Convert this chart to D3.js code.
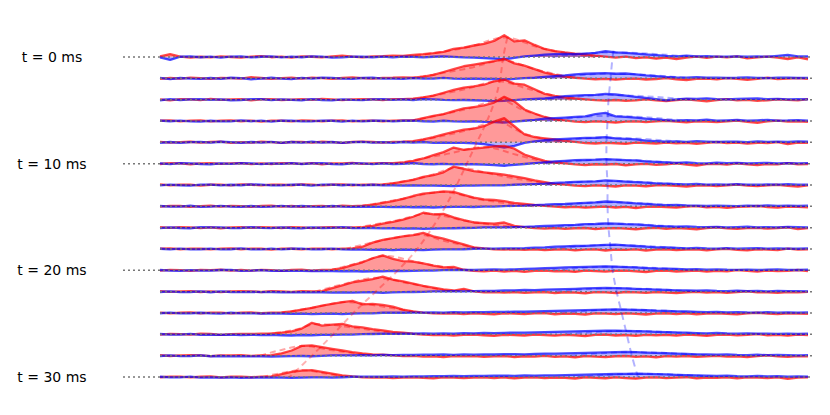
<!DOCTYPE html>
<html>
<head>
<meta charset="utf-8">
<script src="https://cdn.jsdelivr.net/npm/d3@7"></script>
<style>
  body { margin: 0; background: #fff; }
  svg { display: block; font-family: "DejaVu Sans", sans-serif; }
</style>
</head>
<body>
<script>
// time of each trace (ms), one row per time step
const times = [0, 2, 4, 6, 8, 10, 12, 14, 16, 18, 20, 22, 24, 26, 28, 30];
const labelTimes = [0, 10, 20, 30];

// sampled signals, 65 channels per row (amplitude)
const redSignal = [
  [.5,2.5,.3,-.5,.2, -.3,.5,0,-.6,.4, .8,-.2,.3,-.5,.6, .2,-.4,.5,1.2,.3, -.3,.6,.8,1.2,1, 1.8,2.5,3.4,4.5,7, 8.2,10,11.5,14,19, 13.5,14.5,10.5,7,5.2, 4,3,2.2,1.2,.4, -.5,.3,-1,-.4,-1.5, -.6,-1.8,-.5,.4,-.8, .3,-.4,.5,-1.2,-.3, .4,-.5,-1.8,-.3,-2],
  [-.4,.3,-.2,.6,.2, -.5,.4,.2,-.3,1, .3,-.4,.2,.5,-.2, .6,.1,-.5,.3,.8, .2,-.3,.4,.5,.8, .5,1.5,3,5.5,8, 10.5,12,13.5,15,17, 13,11,8,5,3, 1.5,.5,-.3,-.8,-.4, -1.2,-.5,-.2,-1,-.6, .3,-.8,-1.5,-.4,-.2, -.9,.2,-.5,-1.3,-.4, .5,-.6,-.3,.2,-.5],
  [.3,-.6,.5,.2,-.4, .6,-.2,.3,.4,-.5, .2,.5,-.3,.1,.4, -.2,.7,.2,-.4,.3, .5,.2,-.3,.4,.5, .8,2,3.5,6,8.5, 10.5,11.5,13,16,17.5, 14,13,9,5,3.2, 2,1,.3,-.4,-.8, -.3,-1,-.6,.2,-.7, -1.2,-.4,.3,-.5,-1.4, -.3,.4,-.6,-.2,-1, -.5,.3,-.2,-.6,.4],
  [.2,.5,-.3,.4,.6, -.4,.2,.5,-.2,.3, -.5,.4,.2,-.3,.5, .3,-.2,.4,.6,-.3, .2,.4,-.2,.3,.5, .6,2.5,4.5,6,8.5, 11,12,13.5,16,21, 17,10,6.5,3.5,1.5, .5,-.5,-1,-.4,-.8, -1.5,-.6,-.3,-1,-.4, .2,-.5,-1.2,-.3,-.6, -1,-.4,.3,-.7,-1.6, -.3,.4,-.5,-.2,-.8],
  [.4,-.3,.2,.5,-.2, .3,.6,-.4,.2,-.3, .5,.2,-.5,.3,.4, -.3,.5,.2,-.4,.3, .6,.3,-.2,.4,.6, 1,2.5,4.5,7,9, 11,12,14,18,21, 14,7,4.5,3.5,2.5, 1.2,.4,-.6,-1,-.4, -.8,-1.4,-.3,-.6,-1, -.2,-.9,-.5,-1.3,-.4, .3,-.7,-.2,-1.1,-.4, -.6,.2,-1.5,-.3,-.5],
  [-.3,.4,.2,-.5,.3, .5,-.2,.3,.4,-.4, .2,-.3,.5,.3,-.2, .4,-.5,.2,.3,.6, -.2,.3,.4,.5,1, 2.5,4.5,7.5,10,14, 12,13,14,15,15.5, 13,8,5,2.5,1, .2,-.6,-1.2,-.5,-.8, -.3,-1.5,-.6,-.2,-1, -.5,.3,-.8,-1.6,-.4, -.2,-.9,.3,-.5,-1.2, -.3,-.7,.4,-.5,-.3],
  [.5,-.3,.2,.4,-.5, .2,.3,-.4,.5,.2, -.3,.4,.2,-.2,.5, .3,-.4,.2,.5,-.2, .3,.2,.5,1.5,3, 4.5,7,8.5,11,16, 14,12,11,10,9, 7.5,6,4,2.5,1, .3,-.5,-1,-.4,-.7, -1.3,-.3,-.6,-1.1,-.4, -.2,-.8,-1.4,-.5,-.3, -.9,-.2,.3,-.6,-1, -.4,.2,-.7,-1.3,-.3],
  [-.2,.4,.3,-.5,.2, .5,-.3,.4,.2,-.4, .3,.5,-.2,.3,-.4, .2,.4,-.3,.5,.2, .5,1.5,3,4.5,6.5, 9,11,12,13,12.5, 10,7.5,6,5.5,4.5, 3,2.2,1.2,.4,-.3, -.8,-.4,-1.2,-.6,-.3, -1,-.5,-1.5,-.4,-.2, -.7,-1.2,-.3,.2,-.8, -.4,-1.3,-.5,-.2,.3, -.6,-1,-.3,-.5,-.8],
  [.4,-.2,.5,.3,-.4, .2,-.5,.3,.4,-.2, .5,.2,-.3,.4,.3, -.4,.2,.5,-.2,.3, .5,1.5,3.5,5,7, 9.5,13,11.5,12,9, 6.5,4.5,4,3.5,4.5, 1.5,.5,-.3,-.8,-.4, -1,-.5,-.3,-1.3,-.6, -.4,-.9,-1.5,-.5,-.2, -1,-.4,-.8,-1.4,-.3, .2,-.6,-1.1,-.4,-.2, -.9,-.3,.3,-1.2,-.4],
  [.3,.5,-.2,.4,.2, -.4,.3,.5,-.2,.4, .2,-.5,.3,.2,-.3, .4,.3,-.2,.3,.5, 2,5.5,8,9.5,11, 12,14,11,9,6.5, 4,1.5,.5,-.3,-.6, -.2,-.8,-.4,-1,-.5, -.3,-1.2,-.6,-.4,-1.3, -.5,-.8,-.3,-1.4,-.6, -.2,-1,-.5,-.3,-1.1, -.4,.2,-.8,-1.2,-.3, -.5,-.9,.3,-.6,-.4],
  [-.3,.4,.2,-.5,.3, .2,.5,-.3,.3,-.2, .4,.2,-.4,.3,.5, -.2,.3,.5,2,4.5, 7,10.5,13,10,8, 7.5,6,4,2.5,3, .5,-.4,-.8,-.3,-1, -.5,-1.3,-.4,-.2,-.9, -.6,-1.4,-.3,-.7,-1.1, -.4,-.2,-.9,-1.5,-.5, -.3,-1,-.6,-.2,-1.2, -.5,-.8,.2,-.4,-1, -.3,-.7,-.4,.3,-.6],
  [.4,-.2,.3,.5,-.3, .3,-.4,.2,.4,.3, -.3,.5,.2,-.2,.4, .3,.5,3,5.5,8, 9.5,11,13,10.5,9, 7,5,3.5,2,1, 2.5,.3,-.5,-.3,-.9, -.4,-1,-.6,-.3,-1.2, -.5,-.9,-1.5,-.4,-.7, -1.2,-.3,-.6,-1,-.4, -.8,-1.3,-.5,-.2,-.9, -.4,-1.1,-.3,.2,-.7, -.5,-1,-.3,-.6,-.2],
  [.3,-.4,.2,.5,-.2, .4,.3,-.3,.2,.5, -.2,.3,.5,1.5,3, 4.5,6.5,8,9.5,10.5, 7.5,8,7,5.5,3, 1.5,.4,-.3,-.6,-.2, -.9,-.4,-.7,-1.2,-.3, -.6,-1,-.4,-.2,-1.1, -.5,-.8,-1.4,-.3,-.6, -1,-.4,-.7,-1.3,-.5, -.2,-.9,-.4,-1.1,-.6, -.3,-.8,-1.2,-.4,.2, -.6,-.9,-.3,-.5,-.7],
  [-.3,.4,.2,-.2,.5, .3,-.4,.2,.4,.3, .5,.8,1.5,2.5,5, 10,7.5,8.5,9,7, 6,4.5,3.5,2.2,1.5, .5,-.3,-.7,-.4,-1, -.5,-.2,-.8,-1.3,-.4, -.7,-1,-.3,-.6,-1.2, -.4,-.9,-1.5,-.5,-.3, -1,-.6,-1.3,-.4,-.8, -.5,-1.1,-.3,-.7,-1.4, -.4,-.2,-.9,-.5,.2, -.8,-.4,-1.2,-.3,-.6],
  [.4,-.3,.2,.5,.3, -.4,.3,.2,.5,-.2, .3,.5,2,4.5,8.5, 9,7.5,6,4.5,3, 2,1.2,.8,.3,-.4, -.2,-.8,-.5,-1.2,-.3, -.7,-.4,-1,-.6,-.3, -1.3,-.5,-.8,-.2,-1, -.6,-1.5,-.4,-.9,-1.2, -.5,-.3,-1,-.7,-1.4, -.4,-.8,-.3,-1.1,-.6, -.2,-.9,-.5,-1.3,-.4, .2,-.7,-1,-.4,-.6],
  [-.2,.4,.3,-.3,.2, .5,-.3,.2,.4,-.2, .3,.5,2.5,4.5,5.5, 6,4.5,3,1.5,.5, -.3,-.6,-.2,-1,-.5, -.3,-.8,-1.2,-.4,-.6, -1,-.5,-.3,-.9,-.4, -1.2,-.6,-.3,-1,-.5, -.8,-1.3,-.4,-.7,-1.1, -.4,-.9,-1.5,-.5,-.3, -1,-.6,-.2,-1.2,-.5, -.8,-.4,-1.1,-.3,-.6, -.9,-.4,-1.6,-.5,-.3]
];

const blueSignal = [
  [-.3,-2.5,.2,.6,-.2, .4,-.5,.3,.5,-.4, .2,.6,-.3,.4,-.2, .5,.3,-.6,-.3,.4, .2,-.2,.3,-.3,.4, .1,-.3,.2,.5,.1, -.4,-.6,-1,-1.5,-2, -.8,.5,1.2,2,2.5, 2.8,2.5,3,3.5,5, 4,3.6,3,2.2,1.6, 1,.6,1.2,.5,.8, .4,.3,.6,.2,.5, .3,1,1.8,.5,.6],
  [.4,-.6,.3,-.2,-.5, .3,-.4,.5,.2,-.8, -.2,.5,-.3,-.6,.4, -.3,.5,.4,-.2,-.5, .3,.5,-.3,-.2,-.4, .2,-.3,-.2,.4,-.3, -.5,-.3,-.6,-.4,-1, -.5,.2,.5,1.2,2, 2.5,3.5,4,4.2,4.5, 4,4.2,3.5,2.5,2, 1.2,.8,.6,1,.5, .6,.3,.5,.9,.4, .2,.6,.5,.3,.4],
  [-.5,.4,-.3,.2,.5, -.2,.3,-.5,-.3,.4, .5,-.4,.2,-.2,-.5, .4,-.3,-.6,.3,-.2, -.4,.3,.5,-.2,.2, -.3,.4,.2,-.2,-.4, -.3,-.5,-.8,-1.2,-1, -.4,.3,.6,1,2, 3,3.5,4,4.2,5, 4.5,3.5,2.5,1.5,.5, -.5,.3,.8,.6,1.2, .5,.3,.6,.8,1, .4,.7,.3,.5,.2],
  [.3,-.2,.4,-.3,-.5, .2,-.4,-.3,.5,-.2, .3,-.5,.4,.2,-.3, -.4,.3,.2,-.5,.4, -.3,.2,.3,-.4,.2, .3,-.2,-.5,.2,-.3, -.6,-.4,-.8,-1,-1.3, -.5,.2,1,2,2.5, 3,3.5,4,6,7, 4,3.5,3,2,1.5, .8,.3,.8,.5,1.2, .4,.6,.9,.3,.6, 1,.4,.5,.8,.3],
  [-.4,.3,-.5,.2,.4, -.3,.5,.2,-.4,.3, -.2,.4,-.5,.3,-.3, .5,-.2,.3,-.4,.2, .4,-.3,.2,-.5,.3, -.2,.3,-.4,-.3,-.5, -.4,-.8,-1.5,-3,-4.5, -3,-.5,.8,1.8,2.5, 3,3.5,3.8,4,4.5, 3.5,3,2.5,1.5,1, .5,.8,.4,1,.6, .3,.7,.5,.2,.8, .4,.6,.3,.9,.5],
  [.3,-.4,.5,.2,-.3, -.5,.3,-.2,.4,.2, -.4,.3,-.2,.5,-.3, .2,.4,-.3,-.5,.2, .3,-.4,.2,-.3,-.2, .4,-.3,-.5,-.2,-.6, -.4,-.5,-.8,-1.2,-1.8, -1,-.3,.5,1.2,2, 2.5,3,3.2,3.5,4, 3.5,3,2.8,2,1.5, 1,.6,1.2,.5,.3, .8,.4,.6,.2,.5, .7,.3,.5,.2,.4],
  [-.3,.4,-.2,-.5,.3, .4,-.3,.2,-.2,.5, .3,-.4,-.3,.4,.2, -.5,.3,.4,-.2,.3, -.3,.2,-.4,-.3,-.5, -.4,-.6,-.5,-.8,-1, -.6,-.5,-.3,-.4,-.2, .2,.5,.8,1.2,1.8, 2.2,2.8,3,3.2,4, 3.5,3,2.5,2,1.5, 1.2,.8,.5,.9,.4, .6,.3,.7,.4,.2, .5,.3,.8,.4,.2],
  [.3,-.3,-.2,.5,-.4, -.2,.4,-.3,-.4,.3, -.5,-.2,.4,-.3,.3, -.2,-.5,.3,-.3,-.4, -.3,-.5,-.4,-.7,-.5, -.8,-.6,-1,-.7,-.5, -.4,-.6,-.3,-.2,.2, .4,.6,1,1.4,2, 2.2,2.6,3,3.5,4.2, 3.8,3.2,2.6,2.2,1.5, 1,1.3,.8,.5,.3, .7,.4,.2,.6,.3, .8,.4,.6,.3,.5],
  [-.4,.3,-.3,-.5,.4, .3,.2,-.4,-.3,.5, -.2,-.4,.3,-.3,-.5, .3,-.3,-.2,.4,-.3, -.4,-.3,-.6,-.5,-.8, -.6,-1,-.8,-.7,-.5, -.3,-.2,.2,.3,.2, .5,.7,1,1.5,1.8, 2.2,2.5,3,3.2,3.8, 3.5,3,2.8,2.2,1.6, 1.2,.8,1.1,.6,.4, .7,.3,.5,.8,.3, .5,.2,.6,.4,.3],
  [.2,-.4,.3,-.3,-.2, .4,-.3,-.2,.5,-.4, -.3,.3,-.4,.2,.4, -.3,-.2,.3,-.4,-.5, -.6,-.8,-.5,-.9,-.6, -.7,-1,-.6,-.4,-.3, -.2,.2,.4,.3,.5, .6,.8,1.2,1.4,2, 2.3,2.6,2.8,3.2,3.5, 3.8,3.2,2.6,2,1.5, 1.3,.9,.6,1,.5, .4,.7,.3,.5,.8, .4,.6,.3,.2,.5],
  [.3,-.3,-.4,.2,-.2, -.3,.3,.4,-.4,-.3, .2,-.4,-.3,-.5,-.4, -.6,-.4,-.7,-.8,-.6, -1,-.8,-.9,-.5,-.6, -.4,-.3,-.2,.2,.3, .4,.3,.5,.8,.6, .9,1.2,1.5,1.8,2.2, 2.5,2.8,3,3.2,3.5, 3.2,2.8,2.5,2,1.6, 1.5,1.2,.8,1,.6, .9,.5,.4,.7,.3, .5,.8,.4,.3,.6],
  [-.3,.2,-.4,-.3,.3, -.5,.2,-.3,-.4,-.2, -.4,-.3,-.5,-.6,-.4, -.7,-.5,-.8,-.6,-.9, -.7,-.5,-1,-.6,-.4, -.3,-.2,.2,.3,.4, .3,.5,.7,.6,1, 1.2,1.5,1.4,1.8,2, 2.2,2.5,2.8,3,3.2, 3,2.8,2.4,2.2,1.8, 1.5,1.2,1,.8,1.1, .7,.5,.8,.4,.6, .3,.7,.5,.4,.3],
  [-.2,.3,-.3,-.4,.2, -.3,-.5,.2,-.4,-.3, -.5,-.4,-.6,-.8,-.5, -.9,-.7,-.6,-1,-.5, -.4,-.3,.2,.3,.2, .4,.3,.5,.4,.7, .6,.8,.7,1,.9, 1.2,1.1,1.4,1.6,1.8, 2,2.2,2.5,2.8,3, 3.2,3,2.8,2.4,2, 1.8,1.5,1.3,1,.8, 1,.6,.8,.5,.4, .7,.3,.6,.4,.5],
  [.3,-.3,-.2,.4,-.4, -.2,-.5,-.3,-.6,-.4, -.7,-.5,-.8,-1,-.6, -.8,-.5,-.4,-.3,-.2, .2,.3,.5,.4,.6, .5,.8,.6,.9,.7, 1,.8,1.2,1.1,1.3, 1.5,1.4,1.7,1.9,2.1, 2.3,2.6,2.8,3,3.1, 3.3,3,2.7,2.5,2.2, 2,1.6,1.4,1.1,.9, 1.2,.8,.6,.9,.5, .6,.4,.7,.3,.5],
  [-.3,.2,-.4,-.3,.3, -.5,-.3,-.6,-.4,-.7, -.5,-.8,-.6,-.4,-.3, -.5,-.2,.2,.3,.2, .4,.3,.6,.5,.7, .6,.9,.8,1,.7, 1.1,.9,1.2,1,1.3, 1.4,1.2,1.6,1.8,1.7, 2,2.2,2.4,2.6,2.8, 3,3.2,3,2.7,2.4, 2.1,1.8,1.5,1.2,1, .9,1.1,.7,.5,.8, .4,.6,.5,.3,.4],
  [.2,-.4,-.3,.3,-.5, -.4,-.6,-.3,-.7,-.5, -.4,-.6,-.5,-.8,-.6, -.4,-.3,-.5,-.2,.2, .3,.4,.2,.5,.4, .6,.5,.8,.7,.9, .8,1,.9,1.1,1.2, 1,1.3,1.2,1.5,1.4, 1.6,1.8,2,2.2,2.4, 2.6,2.8,3,2.8,2.5, 2.2,1.9,1.6,1.3,1.1, .9,1.2,.8,.6,.9, .5,.7,.4,.6,.3]
];

// fitted envelopes: [channel, amplitude] knots per row
const redEnvelope = [
  [[24.2, 0], [30.6, 9], [34.1, 17], [37.5, 8], [43.0, 0]],
  [[24.7, 0], [30.6, 9], [33.9, 15.5], [37.0, 8], [41.0, 0]],
  [[24.7, 0], [30.1, 9], [33.4, 16], [36.5, 9], [40.5, 0]],
  [[24.7, 0], [30.1, 10], [33.6, 18], [36.0, 9], [39.5, 0]],
  [[24.7, 0], [30.1, 10], [33.3, 18], [35.6, 9], [39.5, 0]],
  [[23.2, 0], [28.1, 8], [32.1, 14.5], [35.1, 8], [38.5, 0]],
  [[21.7, 0], [26.2, 7], [29.4, 15], [33.6, 8], [39.0, 0]],
  [[19.8, 0], [24.2, 7], [27.9, 12.5], [31.6, 6], [37.0, 0]],
  [[19.3, 0], [23.2, 6], [26.5, 12], [30.1, 6], [35.6, 0]],
  [[18.3, 0], [22.2, 8], [25.5, 12.5], [28.1, 7], [31.6, 0]],
  [[16.8, 0], [19.8, 7], [22.2, 12.5], [25.7, 6.5], [30.1, 0]],
  [[15.3, 0], [18.3, 7], [21.2, 12], [24.7, 7], [28.6, 0]],
  [[11.9, 0], [15.3, 5], [18.3, 9.5], [21.7, 6], [25.7, 0]],
  [[10.4, 0], [13.3, 4], [15.6, 9], [19.3, 5.5], [23.7, 0]],
  [[9.9, 0], [12.0, 5], [14.1, 8.5], [16.8, 5], [20.7, 0]],
  [[10.1, 0], [12.0, 3.5], [14.1, 6], [16.0, 3.5], [18.3, 0]]
];

const blueEnvStart = [38.7, 38.5, 38.3, 38.2, 38.1, 38.1, 38.2, 38.2, 38.3, 38.5, 38.7, 39.1, 39.6, 40.1, 40.6, 41.2];
const blueEnvPeak  = [44.7, 44.5, 44.3, 44.2, 44.1, 44.1, 44.2, 44.2, 44.3, 44.5, 44.7, 45.1, 45.6, 46.1, 46.6, 47.2];
const blueEnvEnd   = [52.7, 52.5, 52.3, 52.2, 52.1, 52.1, 52.2, 52.2, 52.3, 52.5, 52.7, 53.1, 53.6, 54.1, 54.6, 55.2];
const blueEnvAmp   = [4, 4, 4, 4.5, 4, 3.5, 3.5, 3.5, 3.5, 3.5, 3.2, 3, 3, 3, 3, 2.8];

// peak trajectories across time
const redTrackT = [-1.8, 0, 2, 4, 6, 8, 10, 12, 14, 16, 18, 20, 22, 24, 26, 28, 30];
const redTrackX = [34.3, 33.9, 33.6, 33.1, 32.3, 31.3, 30.3, 29.3, 28.2, 26.9, 25.4, 23.5, 21.3, 19.1, 17.1, 15.0, 12.8];
const blueTrackT = [-0.6, 0, 2, 4, 6, 8, 10, 12, 14, 16, 18, 20, 22, 24, 26, 28, 30];
const blueTrackX = [44.8, 44.7, 44.5, 44.3, 44.2, 44.1, 44.1, 44.2, 44.2, 44.3, 44.5, 44.7, 45.1, 45.6, 46.1, 46.6, 47.2];

const W = 830, H = 415;
const nChan = 65;

const x = d3.scaleLinear().domain([0, nChan - 1]).range([160, 808]);
const y = d3.scaleLinear().domain([0, 30]).range([57, 377]);
const amp = d3.scaleLinear().domain([0, 20]).range([0, -23]);

const svg = d3.select('body')
    .append('svg')
    .attr('width', W)
    .attr('height', H);

svg.append('rect').attr('width', W).attr('height', H).attr('fill', '#fff');

const area = d3.area()
    .x((d, i) => x(i))
    .y0(amp(0))
    .y1(d => amp(d));

const line = d3.line()
    .x((d, i) => x(i))
    .y(d => amp(d));

const envLine = d3.line()
    .x(d => x(d[0]))
    .y(d => amp(d[1]))
    .curve(d3.curveMonotoneX);

times.forEach((t, r) => {
    const g = svg.append('g').attr('transform', `translate(0,${y(t)})`);

    g.append('path').attr('d', area(redSignal[r]))
        .attr('fill', 'red').attr('fill-opacity', 0.4);
    g.append('path').attr('d', area(blueSignal[r]))
        .attr('fill', 'blue').attr('fill-opacity', 0.3);

    g.append('path')
        .attr('d', envLine(redEnvelope[r]))
        .attr('fill', 'none').attr('stroke', 'red').attr('stroke-opacity', 0.35)
        .attr('stroke-width', 2).attr('stroke-dasharray', '6,4');
    g.append('path')
        .attr('d', envLine([[blueEnvStart[r], 0], [blueEnvPeak[r], blueEnvAmp[r]], [blueEnvEnd[r], 0]]))
        .attr('fill', 'none').attr('stroke', 'blue').attr('stroke-opacity', 0.3)
        .attr('stroke-width', 2).attr('stroke-dasharray', '6,4');

    g.append('path').attr('d', line(redSignal[r]))
        .attr('fill', 'none').attr('stroke', 'red').attr('stroke-opacity', 0.7)
        .attr('stroke-width', 2.3).attr('stroke-linejoin', 'round');
    g.append('path').attr('d', line(blueSignal[r]))
        .attr('fill', 'none').attr('stroke', 'blue').attr('stroke-opacity', 0.7)
        .attr('stroke-width', 2.3).attr('stroke-linejoin', 'round');

    // dotted zero line, longer for labelled rows
    const labelled = labelTimes.includes(t);
    g.append('line')
        .attr('x1', labelled ? 123 : x(0))
        .attr('x2', x(nChan - 1) + 4)
        .attr('y1', 0).attr('y2', 0)
        .attr('stroke', '#777').attr('stroke-width', 1.5)
        .attr('stroke-dasharray', '2,3');
});

// trajectories of the peaks
const trackLine = d3.line()
    .x(d => x(d[0]))
    .y(d => y(d[1]))
    .curve(d3.curveCatmullRom);

svg.append('path')
    .attr('d', trackLine(redTrackX.map((v, i) => [v, redTrackT[i]])))
    .attr('fill', 'none').attr('stroke', 'red').attr('stroke-opacity', 0.3)
    .attr('stroke-width', 2).attr('stroke-dasharray', '6,4');

svg.append('path')
    .attr('d', trackLine(blueTrackX.map((v, i) => [v, blueTrackT[i]])))
    .attr('fill', 'none').attr('stroke', 'blue').attr('stroke-opacity', 0.3)
    .attr('stroke-width', 2).attr('stroke-dasharray', '7,5');

// time labels
svg.selectAll('text.tlabel')
    .data(labelTimes)
    .enter()
    .append('text')
    .attr('class', 'tlabel')
    .attr('x', 52)
    .attr('y', d => y(d))
    .attr('dy', '0.35em')
    .attr('text-anchor', 'middle')
    .attr('font-size', 14)
    .attr('fill', '#000')
    .text(d => `t = ${d} ms`);
</script>
</body>
</html>
